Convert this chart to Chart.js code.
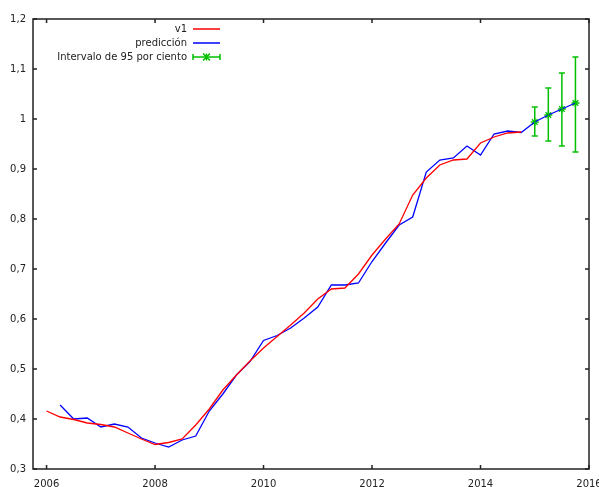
<!DOCTYPE html>
<html>
<head>
<meta charset="utf-8">
<script src="https://cdn.jsdelivr.net/npm/chart.js@4/dist/chart.umd.min.js"></script>
<style>
body { margin: 0; background: #fff; }
</style>
</head>
<body>
<canvas id="chart" width="599" height="487"></canvas>
<script>
// ---- data (quarterly) ----
const periods = [
  2006.00, 2006.25, 2006.50, 2006.75,
  2007.00, 2007.25, 2007.50, 2007.75,
  2008.00, 2008.25, 2008.50, 2008.75,
  2009.00, 2009.25, 2009.50, 2009.75,
  2010.00, 2010.25, 2010.50, 2010.75,
  2011.00, 2011.25, 2011.50, 2011.75,
  2012.00, 2012.25, 2012.50, 2012.75,
  2013.00, 2013.25, 2013.50, 2013.75,
  2014.00, 2014.25, 2014.50, 2014.75,
  2015.00, 2015.25, 2015.50, 2015.75
];

const v1 = [
  0.416, 0.404, 0.399, 0.392,
  0.389, 0.384, 0.372, 0.360,
  0.349, 0.353, 0.360, 0.388,
  0.420, 0.458, 0.488, 0.516,
  0.542, 0.565, 0.588, 0.612,
  0.640, 0.660, 0.662, 0.690,
  0.728, 0.760, 0.790, 0.848,
  0.882, 0.908, 0.918, 0.920,
  0.952, 0.964, 0.972, 0.974
];

const prediccion = [
  null,  0.428, 0.400, 0.402,
  0.384, 0.390, 0.384, 0.362,
  0.352, 0.344, 0.358, 0.366,
  0.416, 0.450, 0.488, 0.515,
  0.557, 0.567, 0.582, 0.602,
  0.624, 0.668, 0.668, 0.672,
  0.715, 0.752, 0.788, 0.804,
  0.894, 0.918, 0.922, 0.946,
  0.928, 0.970, 0.976, 0.973,
  0.994, 1.008, 1.020, 1.032
];

// forecast interval, last four quarters
const intervalPeriods = [2015.00, 2015.25, 2015.50, 2015.75];
const intervalLow  = [0.966, 0.956, 0.946, 0.934];
const intervalHigh = [1.024, 1.062, 1.092, 1.124];
const intervalMid  = [0.994, 1.008, 1.020, 1.032];

const xTicks = [2006, 2008, 2010, 2012, 2014, 2016];
const yTicks = [0.3, 0.4, 0.5, 0.6, 0.7, 0.8, 0.9, 1.0, 1.1, 1.2];

const RED = '#ff0000', BLUE = '#0000ff', GREEN = '#00c000';
const FONT = { family: 'DejaVu Sans', size: 10 };

function pts(xs, ys) {
  return ys.map((y, i) => ({ x: xs[i], y: y }));
}

// frame, inward ticks, error bars and gnuplot-like legend
const gnuplotLook = {
  id: 'gnuplotLook',
  afterDatasetsDraw(chart) {
    const ctx = chart.ctx;
    const xs = chart.scales.x, ys = chart.scales.y;

    // error bars
    ctx.save();
    ctx.strokeStyle = GREEN;
    ctx.lineWidth = 1.5;
    intervalPeriods.forEach((p, i) => {
      const px = xs.getPixelForValue(p);
      const lo = ys.getPixelForValue(intervalLow[i]);
      const hi = ys.getPixelForValue(intervalHigh[i]);
      ctx.beginPath();
      ctx.moveTo(px, lo); ctx.lineTo(px, hi);
      ctx.moveTo(px - 3, lo); ctx.lineTo(px + 3, lo);
      ctx.moveTo(px - 3, hi); ctx.lineTo(px + 3, hi);
      ctx.stroke();
    });
    ctx.restore();
  },
  afterDraw(chart) {
    const ctx = chart.ctx;
    const a = chart.chartArea;
    const xs = chart.scales.x, ys = chart.scales.y;
    ctx.save();
    ctx.strokeStyle = '#222';
    ctx.lineWidth = 1.5;
    ctx.strokeRect(a.left, a.top, a.right - a.left, a.bottom - a.top);
    ctx.beginPath();
    xTicks.forEach(v => {
      const px = xs.getPixelForValue(v);
      ctx.moveTo(px, a.bottom); ctx.lineTo(px, a.bottom - 4);
      ctx.moveTo(px, a.top); ctx.lineTo(px, a.top + 4);
    });
    yTicks.forEach(v => {
      const py = ys.getPixelForValue(v);
      ctx.moveTo(a.left, py); ctx.lineTo(a.left + 4, py);
      ctx.moveTo(a.right, py); ctx.lineTo(a.right - 4, py);
    });
    ctx.stroke();

    // legend
    const textRight = a.left + 154;
    const sx0 = textRight + 6, sx1 = textRight + 33;
    ctx.font = FONT.size + 'px ' + FONT.family;
    ctx.textAlign = 'right';
    ctx.textBaseline = 'middle';
    ctx.fillStyle = '#222';
    chart.data.datasets.forEach((ds, i) => {
      const y = a.top + 10 + i * 14;
      ctx.fillText(ds.label, textRight, y);
      ctx.strokeStyle = ds.borderColor;
      ctx.lineWidth = 1.5;
      ctx.beginPath();
      ctx.moveTo(sx0, y); ctx.lineTo(sx1, y);
      if (ds.errorBars) {
        ctx.moveTo(sx0, y - 3); ctx.lineTo(sx0, y + 3);
        ctx.moveTo(sx1, y - 3); ctx.lineTo(sx1, y + 3);
      }
      ctx.stroke();
      if (ds.errorBars) {
        const cx = (sx0 + sx1) / 2, r = 3.5;
        ctx.beginPath();
        ctx.moveTo(cx - r, y - r); ctx.lineTo(cx + r, y + r);
        ctx.moveTo(cx - r, y + r); ctx.lineTo(cx + r, y - r);
        ctx.moveTo(cx, y - r); ctx.lineTo(cx, y + r);
        ctx.stroke();
      }
    });
    ctx.restore();
  }
};

new Chart(document.getElementById('chart'), {
  type: 'line',
  data: {
    datasets: [
      {
        label: 'v1',
        data: pts(periods, v1),
        borderColor: RED,
        borderWidth: 1.3,
        pointRadius: 0,
        tension: 0
      },
      {
        label: 'predicción',
        data: pts(periods, prediccion),
        borderColor: BLUE,
        borderWidth: 1.3,
        pointRadius: 0,
        tension: 0
      },
      {
        label: 'Intervalo de 95 por ciento',
        data: pts(intervalPeriods, intervalMid),
        borderColor: GREEN,
        backgroundColor: GREEN,
        showLine: false,
        pointStyle: 'star',
        pointRadius: 4,
        pointBorderWidth: 1.3,
        errorBars: true
      }
    ]
  },
  options: {
    responsive: false,
    animation: false,
    layout: { padding: { top: 19, right: 10, left: 0, bottom: 0 } },
    plugins: {
      legend: { display: false },
      tooltip: { enabled: false }
    },
    scales: {
      x: {
        type: 'linear',
        min: 2005.75,
        max: 2016,
        grid: { display: false, drawTicks: false },
        border: { display: false },
        afterBuildTicks: s => { s.ticks = xTicks.map(v => ({ value: v })); },
        afterFit: s => { s.height = 18; s.paddingLeft = 0; s.paddingRight = 0; },
        ticks: {
          autoSkip: false,
          maxRotation: 0,
          padding: 9,
          color: '#222',
          font: FONT,
          callback: v => String(v)
        }
      },
      y: {
        min: 0.3,
        max: 1.2,
        grid: { display: false, drawTicks: false },
        border: { display: false },
        afterBuildTicks: s => { s.ticks = yTicks.map(v => ({ value: v })); },
        afterFit: s => { s.width = 33; s.paddingTop = 0; s.paddingBottom = 0; },
        ticks: {
          autoSkip: false,
          padding: 7,
          color: '#222',
          font: FONT,
          callback: v => String(Math.round(v * 10) / 10).replace('.', ',')
        }
      }
    }
  },
  plugins: [gnuplotLook]
});
</script>
</body>
</html>
